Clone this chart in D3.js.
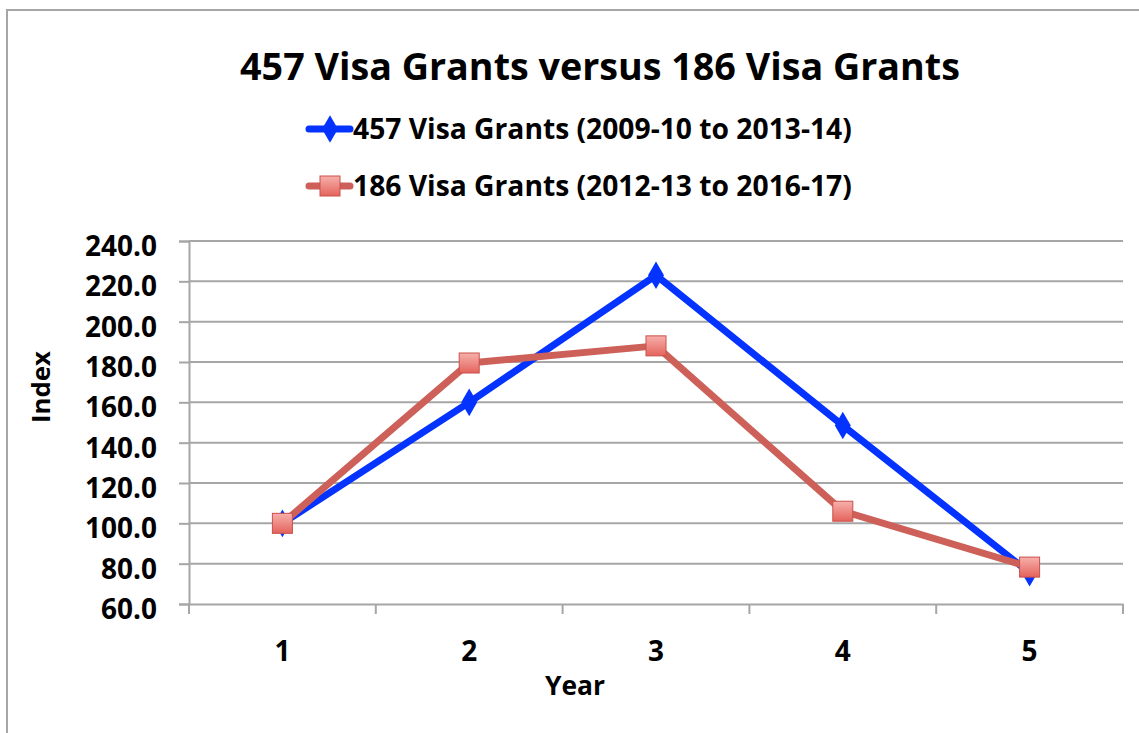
<!DOCTYPE html>
<html><head><meta charset="utf-8">
<script src="https://cdn.jsdelivr.net/npm/d3@7"></script>
<style>html,body{margin:0;padding:0;background:#fff;}svg{display:block;}</style>
</head><body>
<svg id="chart" width="1139" height="733"></svg>
<script>
const years = [1, 2, 3, 4, 5];
const visa457 = [100.0, 160.0, 223.0, 148.5, 75.5];
const visa186 = [100.0, 179.5, 188.0, 106.0, 78.3];
const seriesNames = ["457 Visa Grants (2009-10 to 2013-14)", "186 Visa Grants (2012-13 to 2016-17)"];
const yTicks = [60, 80, 100, 120, 140, 160, 180, 200, 220, 240];
const titleText = "457 Visa Grants versus 186 Visa Grants";

(function () {
const FONT = "'Open Sans', Lato, sans-serif";
const svg = d3.select("#chart");

// fit a text element's font-size to a target width
function fit(sel, target) {
  const fs = parseFloat(sel.attr("font-size"));
  const w = sel.node().getComputedTextLength();
  const nf = fs * target / w;
  sel.attr("font-size", nf);
  return nf;
}

svg.append("rect").attr("x", 7).attr("y", 10).attr("width", 1200).attr("height", 800)
  .attr("fill", "none").attr("stroke", "#a6a6a6").attr("stroke-width", 2);

const pL = 189, pR = 1123, pT = 241, pB = 604;
const x = d3.scaleBand().domain(years).range([pL, pR]);
const y = d3.scaleLinear().domain([60, 240]).range([pB, pT]);

svg.append("g").selectAll("line").data(yTicks.filter(d => d > 60)).join("line")
  .attr("x1", pL).attr("x2", pR).attr("y1", d => y(d)).attr("y2", d => y(d))
  .attr("stroke", "#a6a6a6").attr("stroke-width", 2);

const yAxis = svg.append("g").attr("transform", `translate(${pL},0)`)
  .call(d3.axisLeft(y).tickValues(yTicks).tickFormat(d3.format(".1f")).tickSize(10).tickPadding(22));
yAxis.select(".domain").attr("stroke", "#a6a6a6").attr("stroke-width", 2);
yAxis.selectAll(".tick line").attr("stroke", "#a6a6a6").attr("stroke-width", 2);
const yText = yAxis.selectAll("text").attr("font-family", FONT).attr("font-weight", "bold")
  .attr("font-size", 22).attr("fill", "#000").attr("dy", "0.52em");
const tickFs = fit(d3.select(yText.nodes()[yText.size() - 1]), 72);
yText.attr("font-size", tickFs);

const xAxis = svg.append("g").attr("transform", `translate(0,${pB})`)
  .call(d3.axisBottom(x).tickSize(0).tickPadding(37));
xAxis.select(".domain").attr("stroke", "#a6a6a6").attr("stroke-width", 2);
xAxis.selectAll("text").attr("font-family", FONT).attr("font-weight", "bold")
  .attr("font-size", tickFs).attr("fill", "#000");
const bounds = years.map(d => x(d)).concat([x(years[years.length - 1]) + x.bandwidth()]);
svg.append("g").selectAll("line").data(bounds).join("line")
  .attr("x1", d => d).attr("x2", d => d).attr("y1", pB).attr("y2", pB + 10)
  .attr("stroke", "#a6a6a6").attr("stroke-width", 2);

const xt = svg.append("text").attr("x", 575).attr("y", 695).attr("text-anchor", "middle")
  .attr("font-family", FONT).attr("font-weight", "bold").attr("font-size", 25).text("Year");
fit(xt, 60);
const yt = svg.append("text").attr("transform", "translate(50,387) rotate(-90)").attr("text-anchor", "middle")
  .attr("font-family", FONT).attr("font-weight", "bold").attr("font-size", 25).text("Index");
fit(yt, 72);

const tt = svg.append("text").attr("x", 600).attr("y", 80).attr("text-anchor", "middle")
  .attr("font-family", FONT).attr("font-weight", "bold").attr("font-size", 38).text(titleText);
fit(tt, 720);

const cx = d => x(d) + x.bandwidth() / 2;
const blue = "#0433ff", red = "#cd615a";

const defs = svg.append("defs");
const grad = defs.append("linearGradient").attr("id", "sqg").attr("x1", 0).attr("y1", 0).attr("x2", 0).attr("y2", 1);
grad.append("stop").attr("offset", "0%").attr("stop-color", "#f7b0ac");
grad.append("stop").attr("offset", "100%").attr("stop-color", "#e4635c");

const line = d3.line().x((d, i) => cx(years[i])).y(d => y(d));

svg.append("path").datum(visa457).attr("d", line).attr("fill", "none")
  .attr("stroke", blue).attr("stroke-width", 7).attr("stroke-linejoin", "round");
svg.append("g").selectAll("path").data(visa457).join("path")
  .attr("transform", (d, i) => `translate(${cx(years[i])},${y(d)})`)
  .attr("d", d3.symbol(d3.symbolDiamond, 220)).attr("fill", blue);

svg.append("path").datum(visa186).attr("d", line).attr("fill", "none")
  .attr("stroke", red).attr("stroke-width", 7).attr("stroke-linejoin", "round");
svg.append("g").selectAll("rect").data(visa186).join("rect")
  .attr("x", (d, i) => cx(years[i]) - 10).attr("y", d => y(d) - 10)
  .attr("width", 20).attr("height", 20).attr("fill", "url(#sqg)")
  .attr("stroke", "#c9504a").attr("stroke-width", 1);

const legY = [129, 186];
const leg = svg.append("g");
let legFs = null;
seriesNames.forEach((name, i) => {
  const col = i === 0 ? blue : red;
  leg.append("line").attr("x1", 309).attr("x2", 350).attr("y1", legY[i]).attr("y2", legY[i])
    .attr("stroke", col).attr("stroke-width", 7).attr("stroke-linecap", "round");
  if (i === 0) {
    leg.append("path").attr("transform", `translate(330,${legY[i]})`)
      .attr("d", d3.symbol(d3.symbolDiamond, 220)).attr("fill", blue);
  } else {
    leg.append("rect").attr("x", 320).attr("y", legY[i] - 10).attr("width", 20).attr("height", 20)
      .attr("fill", "url(#sqg)").attr("stroke", "#c9504a").attr("stroke-width", 1);
  }
  const t = leg.append("text").attr("x", 353).attr("y", legY[i] + 10)
    .attr("font-family", FONT).attr("font-weight", "bold").attr("font-size", 26).text(name);
  if (legFs === null) legFs = fit(t, 499); else t.attr("font-size", legFs);
});
})();
</script>
</body></html>
